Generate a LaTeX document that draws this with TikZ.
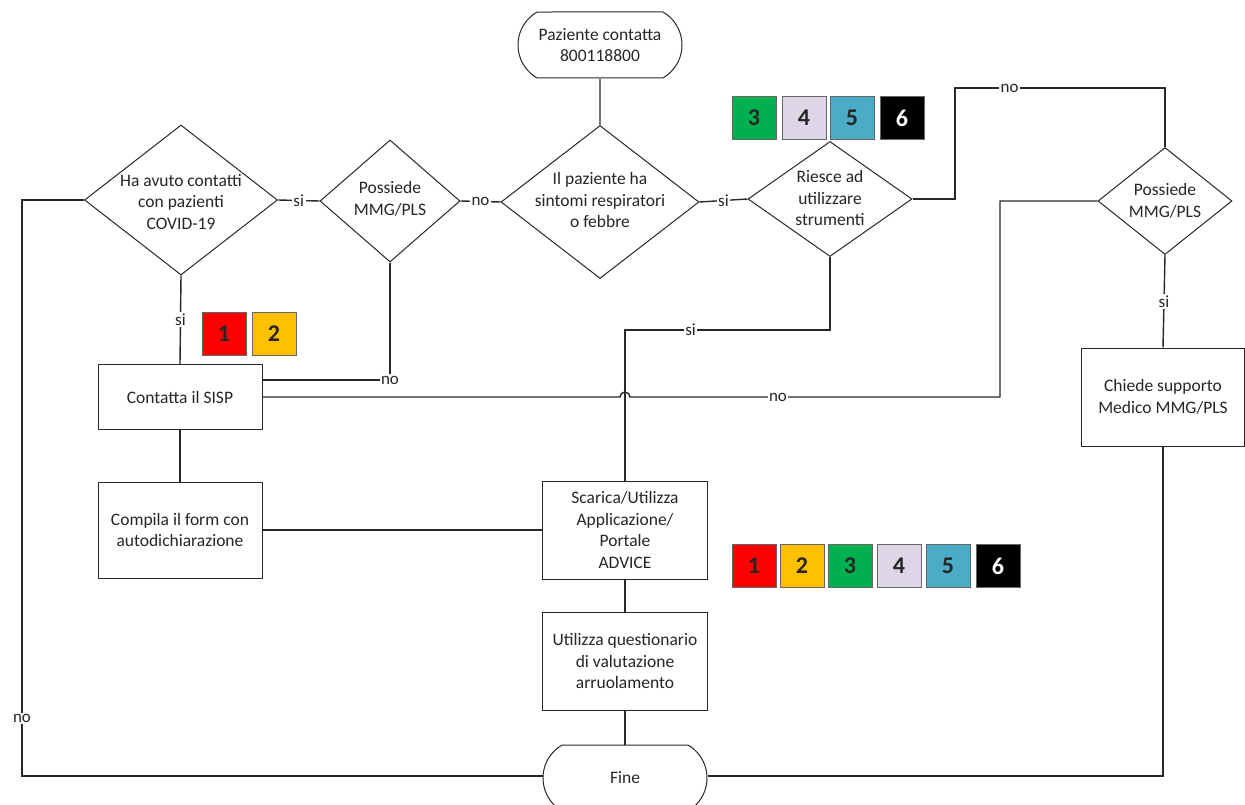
\documentclass[tikz,border=0pt]{standalone}
\usepackage{fontspec}
\setmainfont{Carlito}
\usetikzlibrary{shapes.geometric,shapes.misc}
\definecolor{cRed}{RGB}{255,0,0}
\definecolor{cOra}{RGB}{255,192,0}
\definecolor{cGre}{RGB}{0,176,80}
\definecolor{cLav}{RGB}{220,214,230}
\definecolor{cBlu}{RGB}{75,172,198}
\definecolor{cLine}{RGB}{40,40,40}
\tikzset{
  every node/.style={font=\fontsize{17.5}{21.5}\selectfont, text=black!85},
  dia/.style={diamond, draw=cLine, line width=1pt, inner sep=0pt, fill=white},
  boxn/.style={rectangle, draw=cLine, line width=1pt, inner sep=2pt, align=center, fill=white},
  term/.style={rounded rectangle, rounded rectangle arc length=120, draw=cLine, line width=1pt, align=center, inner sep=0pt, minimum width=164pt, minimum height=66pt, fill=white},
  txt/.style={align=center, inner sep=0pt},
  conn/.style={draw=cLine, line width=1.4pt},
  lbl/.style={fill=white, inner sep=1.5pt, font=\fontsize{17}{20}\selectfont},
  sq/.style={rectangle, draw=black!60, line width=1pt, minimum width=44pt, minimum height=43pt, inner sep=0pt, font=\fontsize{24}{26}\selectfont\bfseries}
}
\begin{document}
\begin{tikzpicture}[x=1pt,y=-1pt]
\useasboundingbox (0,0) rectangle (1245,805);
\fill[white] (0,0) rectangle (1245,805);

% terminals
\node[term] (start) at (600,45) {Paziente contatta\\800118800};
\node[term] (fine) at (625,778) {Fine};

% diamonds
\node[dia, minimum width=193pt, minimum height=150pt] (d1) at (181,200) {};
\node[txt] at (181,202) {Ha avuto contatti\\con pazienti\\COVID-19};
\node[dia, minimum width=140pt, minimum height=122pt] (d2) at (390,201) {};
\node[txt] at (390,199) {Possiede\\MMG/PLS};
\node[dia, minimum width=198pt, minimum height=153pt] (d3) at (600,202) {};
\node[txt] at (600,200) {Il paziente ha\\sintomi respiratori\\o febbre};
\node[dia, minimum width=164pt, minimum height=115pt] (d4) at (830,199) {};
\node[txt] at (830,198) {Riesce ad\\utilizzare\\strumenti};
\node[dia, minimum width=134pt, minimum height=107pt] (d5) at (1165,201) {};
\node[txt] at (1165,201) {Possiede\\MMG/PLS};

% boxes
\node[boxn, minimum width=164pt, minimum height=65pt] (sisp) at (180,397) {Contatta il SISP};
\node[boxn, minimum width=164pt, minimum height=96pt] (compila) at (180,530) {Compila il form con\\autodichiarazione};
\node[boxn, minimum width=165pt, minimum height=98pt] (scarica) at (625,530) {Scarica/Utilizza\\Applicazione/\\Portale\\ADVICE};
\node[boxn, minimum width=165pt, minimum height=98pt] (utilizza) at (625,661) {Utilizza questionario\\di valutazione\\arruolamento};
\node[boxn, minimum width=163pt, minimum height=98pt] (chiede) at (1163,397) {Chiede supporto\\Medico MMG/PLS};

% helper coordinates
\coordinate (c1) at (955,88);
\coordinate (c2) at (1165,88);
\coordinate (c3) at (22,200);
\coordinate (c4) at (22,776);
\coordinate (c5) at (830,330);
\coordinate (c6) at (625,330);
\coordinate (c7) at (1000,201);
\coordinate (c8) at (1000,397);
\coordinate (h1) at (630,397);

% connectors
\draw[conn] (start) -- (d3);
\draw[conn] (d3.west) -- node[lbl]{no} (d2.east);
\draw[conn] (d2.west) -- node[lbl]{si} (d1.east);
\draw[conn] (d3.east) -- node[lbl]{si} (d4.west);
\draw[conn] (d4.east) -| (c1) -- node[lbl, pos=0.26]{no} (c2) -- (d5.north);
\draw[conn] (d1.west) -- (c3) -- node[lbl, pos=0.9]{no} (c4) -- (fine.west |- c4);
\draw[conn] (d1.south) -- node[lbl]{si} (sisp.north);
\draw[conn] (d2.south) |- node[lbl, pos=0.5]{no} ([yshift=17pt]sisp.east);
\draw[conn] (d4.south) -- (c5) -- node[lbl, pos=0.68]{si} (c6) -- (scarica.north);
\draw[conn] (d5.west) -- (c7) -- (c8) -- node[lbl, pos=0.6]{no} (h1) arc[start angle=0, end angle=180, radius=5pt] -- (sisp.east);
\draw[conn] (d5.south) -- node[lbl]{si} (chiede.north);
\draw[conn] (chiede.south) |- (fine.east |- c4);
\draw[conn] (sisp.south) -- (compila.north);
\draw[conn] (compila.east) -- (scarica.west);
\draw[conn] (scarica.south) -- (utilizza.north);
\draw[conn] (utilizza.south) -- (fine.north);

% colour squares, top
\node[sq, fill=cGre] (t3) at (754,118) {3};
\node[sq, fill=cLav] (t4) at (804,118) {4};
\node[sq, fill=cBlu] (t5) at (852,118) {5};
\node[sq, fill=black, text=white] (t6) at (902,118) {6};
% colour squares, middle left
\node[sq, fill=cRed] (m1) at (224,334) {1};
\node[sq, fill=cOra] (m2) at (274,334) {2};
% colour squares, bottom
\node[sq, fill=cRed] (b1) at (754,566) {1};
\node[sq, fill=cOra] (b2) at (802,566) {2};
\node[sq, fill=cGre] (b3) at (850,566) {3};
\node[sq, fill=cLav] (b4) at (899,566) {4};
\node[sq, fill=cBlu] (b5) at (948,566) {5};
\node[sq, fill=black, text=white] (b6) at (998,566) {6};
\end{tikzpicture}
\end{document}
